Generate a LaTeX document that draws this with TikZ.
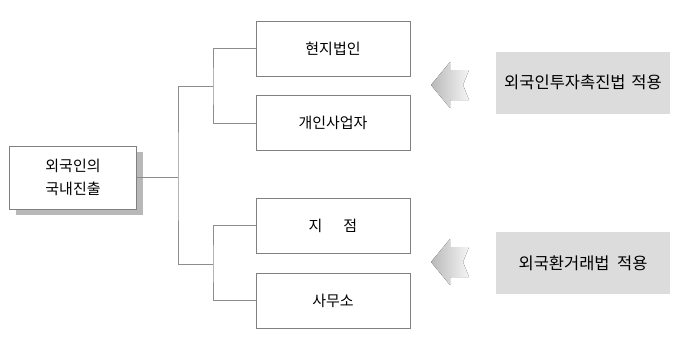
\documentclass[tikz,border=0pt]{standalone}
\usepackage{fontspec}
\setmainfont{Noto Sans CJK KR}
\usetikzlibrary{positioning,shadows}
\definecolor{lawbg}{HTML}{DCDCDC}
\definecolor{edgegray}{HTML}{808080}

\begin{document}
\begin{tikzpicture}[x=1pt, y=-1pt, font=\fontsize{15}{23}\selectfont,
  box/.style={draw=edgegray, line width=0.8pt, fill=white, inner sep=0pt, align=center},
  formbox/.style={box, minimum width=154pt, minimum height=55pt},
  lawbox/.style={fill=lawbg, inner sep=0pt, minimum width=174pt, minimum height=62pt,
    font=\fontsize{16.5}{20}\selectfont},
  link/.style={draw=edgegray!90, line width=0.8pt},
  lawarrow/.pic={
    \fill[left color=gray!55, right color=gray!8, shading angle=90]
      (0,0) -- (19,-23) -- (19,-15) -- (38,-15) -- (32,0) -- (38,15)
      -- (19,15) -- (19,23) -- cycle;
  }]
  \useasboundingbox (0,0) rectangle (698,349);

  \node[box, minimum width=127pt, minimum height=63pt,
        drop shadow={shadow xshift=6pt, shadow yshift=-6pt, fill=black!28, opacity=1}]
        (entry) at (73,177.5) {외국인의\\국내진출};

  \node[formbox] (corp) at (333,48.5) {현지법인};
  \node[formbox] (sole) at (333,123) {개인사업자};
  \node[formbox] (branch) at (333,225.5) {지\hspace{1.4em}점};
  \node[formbox] (office) at (333,300.5) {사무소};

  \node[lawbox] (fdi) at (583,82.5) {외국인투자촉진법\hspace{0.35em}적용};
  \node[lawbox] (fx) at (583,263) {외국환거래법\hspace{0.45em}적용};

  \coordinate (trunk) at (178,177.5);
  \coordinate (upper) at (213,86.5);
  \coordinate (lower) at (213,264.5);

  \draw[link] (entry.east) -- (trunk);
  \draw[link] (upper) -| (trunk) |- (lower);
  \draw[link] (corp.west) -| (upper) |- (sole.west);
  \draw[link] (branch.west) -| (lower) |- (office.west);

  \pic at (431,85) {lawarrow};
  \pic at (431,262) {lawarrow};
\end{tikzpicture}
\end{document}
